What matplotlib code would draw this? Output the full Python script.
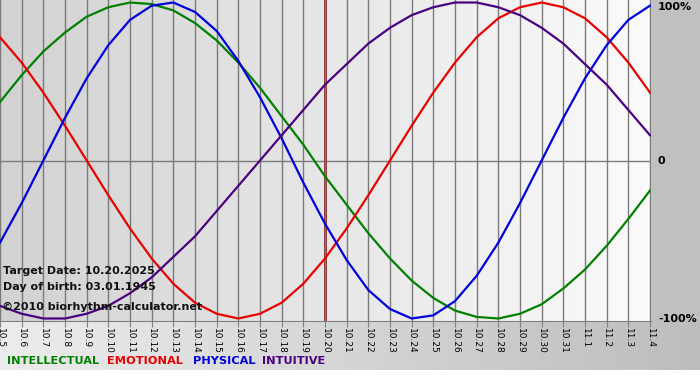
import numpy as np
import matplotlib
matplotlib.use('Agg')
import matplotlib.pyplot as plt
from matplotlib.colors import LinearSegmentedColormap

days = ['10.5', '10.6', '10.7', '10.8', '10.9', '10.10', '10.11', '10.12', '10.13', '10.14',
        '10.15', '10.16', '10.17', '10.18', '10.19', '10.20', '10.21', '10.22', '10.23', '10.24',
        '10.25', '10.26', '10.27', '10.28', '10.29', '10.30', '10.31', '11.1', '11.2', '11.3', '11.4']
target_day = '10.20'

intellectual = [0.37, 0.54, 0.69, 0.81, 0.91, 0.97, 1.00, 0.99, 0.95, 0.87, 0.76, 0.62, 0.46, 0.28, 0.10,
                -0.10, -0.28, -0.46, -0.62, -0.76, -0.87, -0.95, -0.99, -1.00, -0.97, -0.91, -0.81,
                -0.69, -0.54, -0.37, -0.19]
emotional = [0.78, 0.62, 0.43, 0.22, 0.00, -0.22, -0.43, -0.62, -0.78, -0.90, -0.97, -1.00, -0.97,
             -0.90, -0.78, -0.62, -0.43, -0.22, 0.00, 0.22, 0.43, 0.62, 0.78, 0.90, 0.97, 1.00, 0.97,
             0.90, 0.78, 0.62, 0.43]
physical = [-0.52, -0.27, 0.00, 0.27, 0.52, 0.73, 0.89, 0.98, 1.00, 0.94, 0.82, 0.63, 0.40, 0.14, -0.14,
            -0.40, -0.63, -0.82, -0.94, -1.00, -0.98, -0.89, -0.73, -0.52, -0.27, 0.00, 0.27, 0.52,
            0.73, 0.89, 0.98]
intuitive = [-0.92, -0.97, -1.00, -1.00, -0.97, -0.92, -0.84, -0.74, -0.61, -0.48, -0.32, -0.16, 0.00,
             0.16, 0.32, 0.48, 0.61, 0.74, 0.84, 0.92, 0.97, 1.00, 1.00, 0.97, 0.92, 0.84, 0.74, 0.61,
             0.48, 0.32, 0.16]

series = [('INTELLECTUAL', intellectual, '#008000'),
          ('EMOTIONAL', emotional, '#e80000'),
          ('PHYSICAL', physical, '#0000dd'),
          ('INTUITIVE', intuitive, '#4b0082')]

W, H = 700, 380
fig = plt.figure(figsize=(7, 3.8), dpi=100)
fig.patch.set_facecolor('white')

# background pieces (pixel coordinates)
bg = fig.add_axes([0, 0, 1, 1])
bg.set_xlim(0, W)
bg.set_ylim(H, 0)
bg.axis('off')
grad = np.linspace(0, 1, 256).reshape(1, -1)
bottom_cmap = LinearSegmentedColormap.from_list('b', ['#ececec', '#bdbdbd'])
bg.imshow(grad, cmap=bottom_cmap, extent=(0, W, 370, 321), aspect='auto')
bg.add_patch(plt.Rectangle((651, 0), 49, 321, color='#c0c0c0', lw=0))

ax = fig.add_axes([0, 59 / H, 651 / W, 321 / H])
x = np.arange(len(days))
xmax = (len(days) - 1) * 651 / 650
ylim = 160.5 / 158
plot_cmap = LinearSegmentedColormap.from_list('p', ['#d2d2d2', '#fbfbfb'])
ax.imshow(grad, cmap=plot_cmap, extent=(0, xmax, -ylim, ylim), aspect='auto', zorder=0)
ax.set_xlim(0, xmax)
ax.set_ylim(-ylim, ylim)

ax.set_xticks(x)
ax.set_xticklabels(days, rotation=270, fontsize=6.5)
ax.tick_params(axis='x', length=4, color='#808080', pad=1)
ax.grid(axis='x', color='#7a7a7a', lw=1, zorder=1)
ax.set_axisbelow(False)
ax.axhline(0, color='#7a7a7a', lw=1, zorder=1)

ax.yaxis.tick_right()
ax.set_yticks([-1, 0, 1])
ax.set_yticklabels(['-100%', '0', '100%'], fontsize=8, fontweight='bold')
ax.tick_params(axis='y', length=0, pad=5)
ax.get_yticklabels()[2].set_va('top')

for s in ['top', 'left', 'right']:
    ax.spines[s].set_visible(False)
ax.spines['bottom'].set_color('#808080')

ax.axvline(days.index(target_day), color='#8b1c1c', lw=2, zorder=2)

for name, vals, col in series:
    ax.plot(x, vals, color=col, lw=1.6, zorder=3)

info = ['Target Date: 10.20.2025', 'Day of birth: 03.01.1945']
fig.text(3 / W, 1 - 271 / H, info[0], fontsize=8, fontweight='bold', color='#111111', va='center')
fig.text(3 / W, 1 - 287 / H, info[1], fontsize=8, fontweight='bold', color='#111111', va='center')
fig.text(2 / W, 1 - 307 / H, '\u00a92010 biorhythm-calculator.net', fontsize=8,
         fontweight='bold', color='#111111', va='center')

legend_x = [7, 107, 193, 262]
for (name, vals, col), lx in zip(series, legend_x):
    fig.text(lx / W, 1 - 361 / H, name, fontsize=8.2, fontweight='bold', color=col, va='center')

fig.savefig('out.png', dpi=100)
